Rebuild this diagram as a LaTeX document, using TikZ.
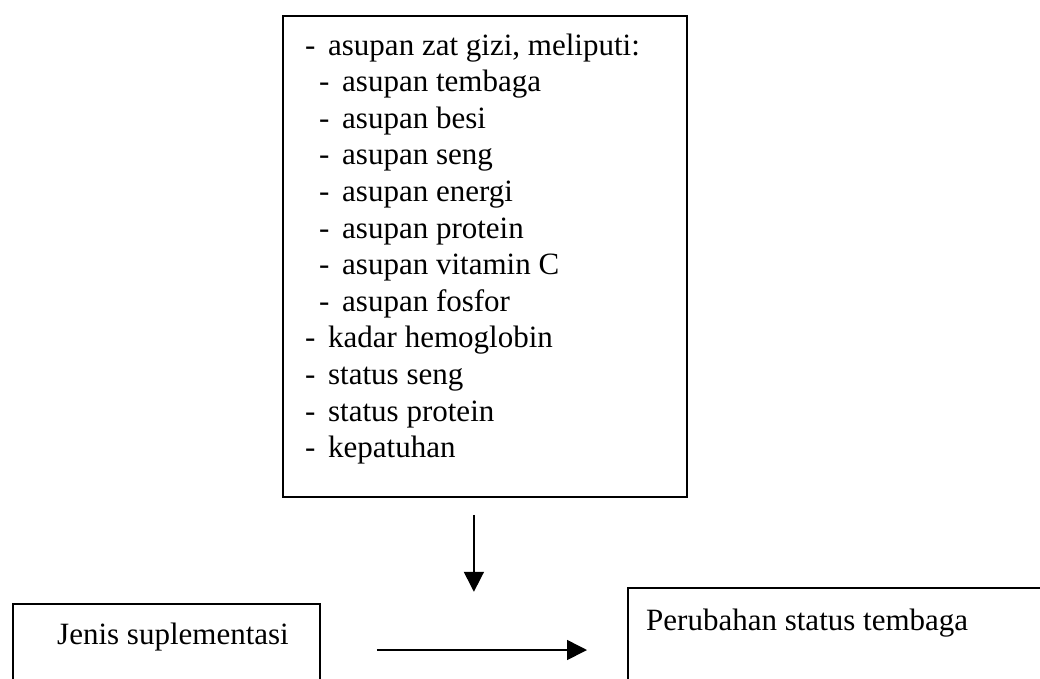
\documentclass[tikz,border=0pt]{standalone}
\usepackage{fontspec}
\setmainfont{Liberation Serif}
\usetikzlibrary{arrows.meta,calc}

\begin{document}
\begin{tikzpicture}[x=1pt,y=-1pt,
	box/.style={draw,line width=1.8pt,inner sep=0pt,anchor=north west},
	txt/.style={anchor=base west,inner sep=0pt,font=\fontsize{31}{36}\selectfont},
	arr/.style={line width=1.6pt,-{Triangle[length=20pt,width=20pt]}}]
		\useasboundingbox (0,0) rectangle (1040,678);
		\clip (0,0) rectangle (1040,678);
		\begin{scope}
			\node[box,minimum width=404pt,minimum height=481pt] (F) at (282,15) {};
			\foreach \d/\lbl [count=\i] in {{0/asupan zat gizi, meliputi:},1/asupan tembaga,1/asupan besi,
				1/asupan seng,1/asupan energi,1/asupan protein,1/asupan vitamin C,1/asupan fosfor,
				0/kadar hemoglobin,0/status seng,0/status protein,0/kepatuhan}
				\node[txt] (l\i) at (305+14*\d,55+36.6*\i-36.6) {\makebox[23pt][l]{-}\lbl};
		\end{scope}
		\begin{scope}
			\node[box,minimum width=307pt,minimum height=100pt] (J) at (12,603) {};
			\node[txt] (Jt) at (57,644) {Jenis suplementasi};
			\node[box,minimum width=440pt,minimum height=120pt] (P) at (627,587) {};
			\node[txt] (Pt) at (646,630) {Perubahan status tembaga};
		\end{scope}
		\draw[arr] ($(F.south)+(-11,17)$) -- ($(F.south)+(-11,94)$);
		\draw[arr] ($(J.north east)+(56,47)$) -- ($(P.north west)+(-40,63)$);
	\end{tikzpicture}
\end{document}
